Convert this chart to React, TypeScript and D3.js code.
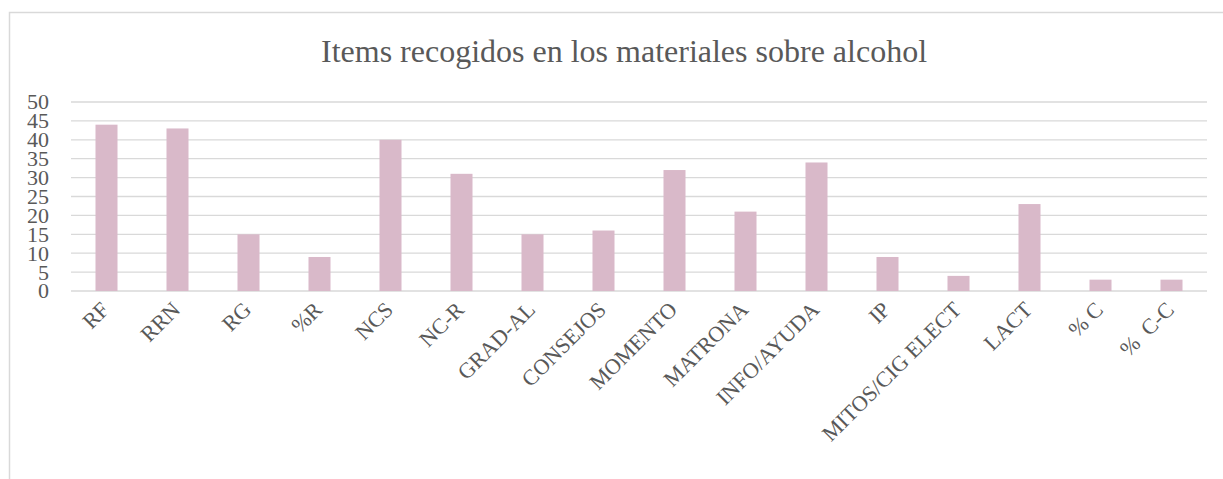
import React from "react";
import * as d3 from "d3";

const categories = ["RF", "RRN", "RG", "%R", "NCS", "NC-R", "GRAD-AL", "CONSEJOS", "MOMENTO", "MATRONA", "INFO/AYUDA", "IP", "MITOS/CIG ELECT", "LACT", "% C", "%  C-C"];
const values = [44, 43, 15, 9, 40, 31, 15, 16, 32, 21, 34, 9, 4, 23, 3, 3];
const yTicks = [0, 5, 10, 15, 20, 25, 30, 35, 40, 45, 50];
const title = "Items recogidos en los materiales sobre alcohol";

const W = 1223;
const H = 479;
const plot = { left: 71, right: 1207, top: 102, bottom: 291 };
const font = "'Liberation Serif', 'Times New Roman', serif";
const textColor = "#595959";

export default function App() {
  const x = d3.scaleBand<string>().domain(categories).range([plot.left, plot.right]).paddingInner(0.69).paddingOuter(0.345);
  const y = d3.scaleLinear().domain([0, 50]).range([plot.bottom, plot.top]);
  return (
    <svg width={W} height={H} style={{ position: "absolute", left: 0, top: 0, background: "#fff" }}>
      <rect x={9.5} y={12.5} width={1300} height={600} fill="#fff" stroke="#d9d9d9" strokeWidth={1.5} />
      <text x={624} y={62} textAnchor="middle" fontFamily={font} fontSize={32} fill={textColor}>{title}</text>
      {yTicks.map((t) => (
        <g key={t}>
          <line x1={plot.left} x2={plot.right} y1={y(t)} y2={y(t)} stroke="#d9d9d9" strokeWidth={1.3} />
          <text x={49} y={y(t)} dy="0.34em" textAnchor="end" fontFamily={font} fontSize={22} fill={textColor}>{t}</text>
        </g>
      ))}
      {categories.map((c, i) => (
        <rect key={c} x={x(c)} y={y(values[i])} width={x.bandwidth()} height={y(0) - y(values[i])} fill="#d9b9c9" />
      ))}
      {categories.map((c) => {
        const cx = (x(c) as number) + x.bandwidth() / 2 + 4;
        const cy = 311;
        return (
          <g key={c} transform={`translate(${cx},${cy}) rotate(-45)`}>
            <text x={0} y={0} textAnchor="end" fontFamily={font} fontSize={22} fill={textColor} style={{ whiteSpace: "pre" }}>{c}</text>
          </g>
        );
      })}
    </svg>
  );
}
